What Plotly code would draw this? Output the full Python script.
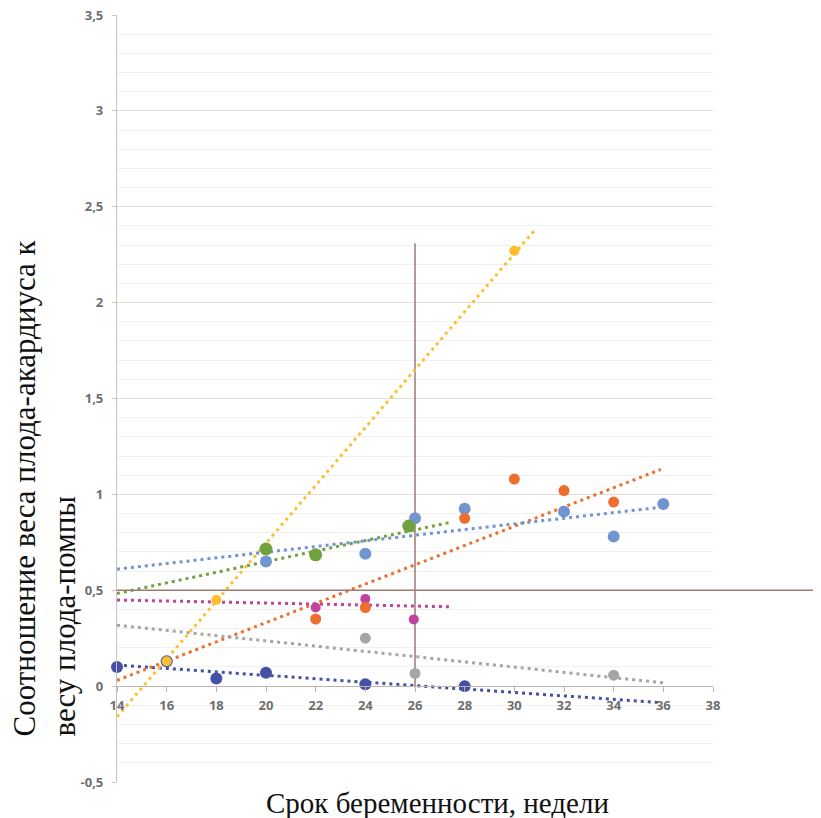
import plotly.graph_objects as go

# ---------------- data ----------------
SERIES = ["Серия 1", "Серия 2", "Серия 3", "Серия 4", "Серия 5", "Серия 6", "Серия 7"]
COLORS = ["#4451A6", "#FDBF2D", "#EE6F2D", "#7196CF", "#6FA23E", "#C0449B", "#A5A5A5"]

X_VALUES = [
    [14, 16, 18, 20, 24, 28],
    [16, 18, 30],
    [22, 24, 28, 30, 32, 34],
    [20, 24, 26, 28, 32, 34, 36],
    [20, 22, 25.75],
    [22, 24, 25.95],
    [24, 26, 34],
]
Y_VALUES = [
    [0.10, 0.13, 0.04, 0.07, 0.01, 0.00],
    [0.13, 0.45, 2.27],
    [0.35, 0.41, 0.875, 1.08, 1.02, 0.96],
    [0.65, 0.69, 0.875, 0.925, 0.91, 0.78, 0.95],
    [0.715, 0.685, 0.835],
    [0.41, 0.455, 0.348],
    [0.25, 0.066, 0.057],
]
MARKER_SIZES = [12, 10, 11, 12, 13, 10, 11]
MARKER_SYMBOLS = ["circle", "circle", "circle", "circle", "circle", "circle", "circle"]

# trend lines (start / end)
TREND_X = [
    [14, 35.8],
    [14, 30.8],
    [14, 35.9],
    [14, 35.7],
    [14, 27.35],
    [14, 27.4],
    [14, 36],
]
TREND_Y = [
    [0.11, -0.085],
    [-0.16, 2.375],
    [0.03, 1.13],
    [0.61, 0.93],
    [0.483, 0.852],
    [0.449, 0.414],
    [0.318, 0.017],
]

# reference lines
REF_X = 26
REF_X_Y_RANGE = [0, 2.31]
REF_Y = 0.5

X_TICKS = [14, 16, 18, 20, 22, 24, 26, 28, 30, 32, 34, 36, 38]
X_TICK_TEXT = [str(v) for v in X_TICKS]
Y_TICKS = [-0.5, 0, 0.5, 1, 1.5, 2, 2.5, 3, 3.5]
Y_TICK_TEXT = ["-0,5", "0", "0,5", "1", "1,5", "2", "2,5", "3", "3,5"]

X_TITLE = "Срок беременности, недели"
Y_TITLE = "Соотношение веса плода-акардиуса к<br>весу плода-помпы"

# page body has an 8px default margin -> figure offset by 8px
OFF = 8
W, H = 821 - OFF, 818 - OFF
L, R, T, B = 117 - OFF, 821 - 713, 15 - OFF, 818 - 782
PW, PH = W - L - R, H - T - B

# ---------------- figure ----------------
fig = go.Figure()

for i in range(len(SERIES)):
    fig.add_trace(go.Scatter(
        x=TREND_X[i], y=TREND_Y[i], mode="lines",
        line=dict(color=COLORS[i], width=3, dash="3px,4px"),
        hoverinfo="skip", showlegend=False, cliponaxis=False,
    ))

order = [3, 4, 5, 6, 2, 0, 1]
for i in order:
    fig.add_trace(go.Scatter(
        x=X_VALUES[i], y=Y_VALUES[i], mode="markers", name=SERIES[i],
        marker=dict(color=COLORS[i], size=MARKER_SIZES[i], symbol=MARKER_SYMBOLS[i]),
        showlegend=False, cliponaxis=False,
    ))

BROWN = "#9E7A72"
fig.add_shape(type="line", xref="x", yref="y", x0=REF_X, x1=REF_X,
              y0=REF_X_Y_RANGE[0], y1=REF_X_Y_RANGE[1],
              line=dict(color=BROWN, width=1.5), layer="between")
fig.add_shape(type="line", xref="paper", yref="y", x0=0, x1=(W - L) / PW,
              y0=REF_Y, y1=REF_Y,
              line=dict(color=BROWN, width=1.5), layer="above")

tickfont = dict(family="Open Sans", size=13, color="#6f6f6f", weight=700)

fig.update_layout(
    width=W, height=H,
    margin=dict(l=L, r=R, t=T, b=B, autoexpand=False),
    paper_bgcolor="white", plot_bgcolor="white",
    showlegend=False,
    xaxis=dict(
        range=[14, 38], tickvals=X_TICKS, ticktext=X_TICK_TEXT,
        showgrid=False, zeroline=False, showline=True, linecolor="#BDB3AC", linewidth=1.2,
        ticks="outside", ticklen=5, tickcolor="#BDB3AC",
        anchor="free", position=0.125, tickfont=tickfont,
        ticklabelstandoff=2, ticklabeloverflow="allow", automargin=False,
    ),
    yaxis=dict(
        range=[-0.5, 3.5], tickvals=Y_TICKS, ticktext=Y_TICK_TEXT,
        showgrid=True, gridcolor="#E2DDD9", gridwidth=1.2,
        zeroline=False, showline=True, linecolor="#C8C2BC", linewidth=1.2,
        ticks="outside", ticklen=4, tickcolor="#C8C2BC", tickfont=tickfont,
        ticklabelstandoff=6, ticklabeloverflow="allow", automargin=False,
        minor=dict(dtick=0.1, showgrid=True, gridcolor="#F2F0EE", gridwidth=1, ticks=""),
    ),
)

def px_x(px):
    return (px - OFF - L) / PW

def px_y(py):
    return (H - B - (py - OFF)) / PH

fig.add_annotation(
    text=X_TITLE, xref="paper", yref="paper",
    x=px_x(437), y=px_y(803), xanchor="center", yanchor="middle",
    showarrow=False, font=dict(family="Liberation Serif", size=29, color="#111111"),
)
fig.add_annotation(
    text=Y_TITLE, xref="paper", yref="paper",
    x=px_x(44), y=px_y(738), xanchor="center", yanchor="bottom",
    textangle=-90, align="left", showarrow=False, borderpad=0,
    font=dict(family="Liberation Serif", size=31, color="#111111"),
)

fig.write_html("out.html")
